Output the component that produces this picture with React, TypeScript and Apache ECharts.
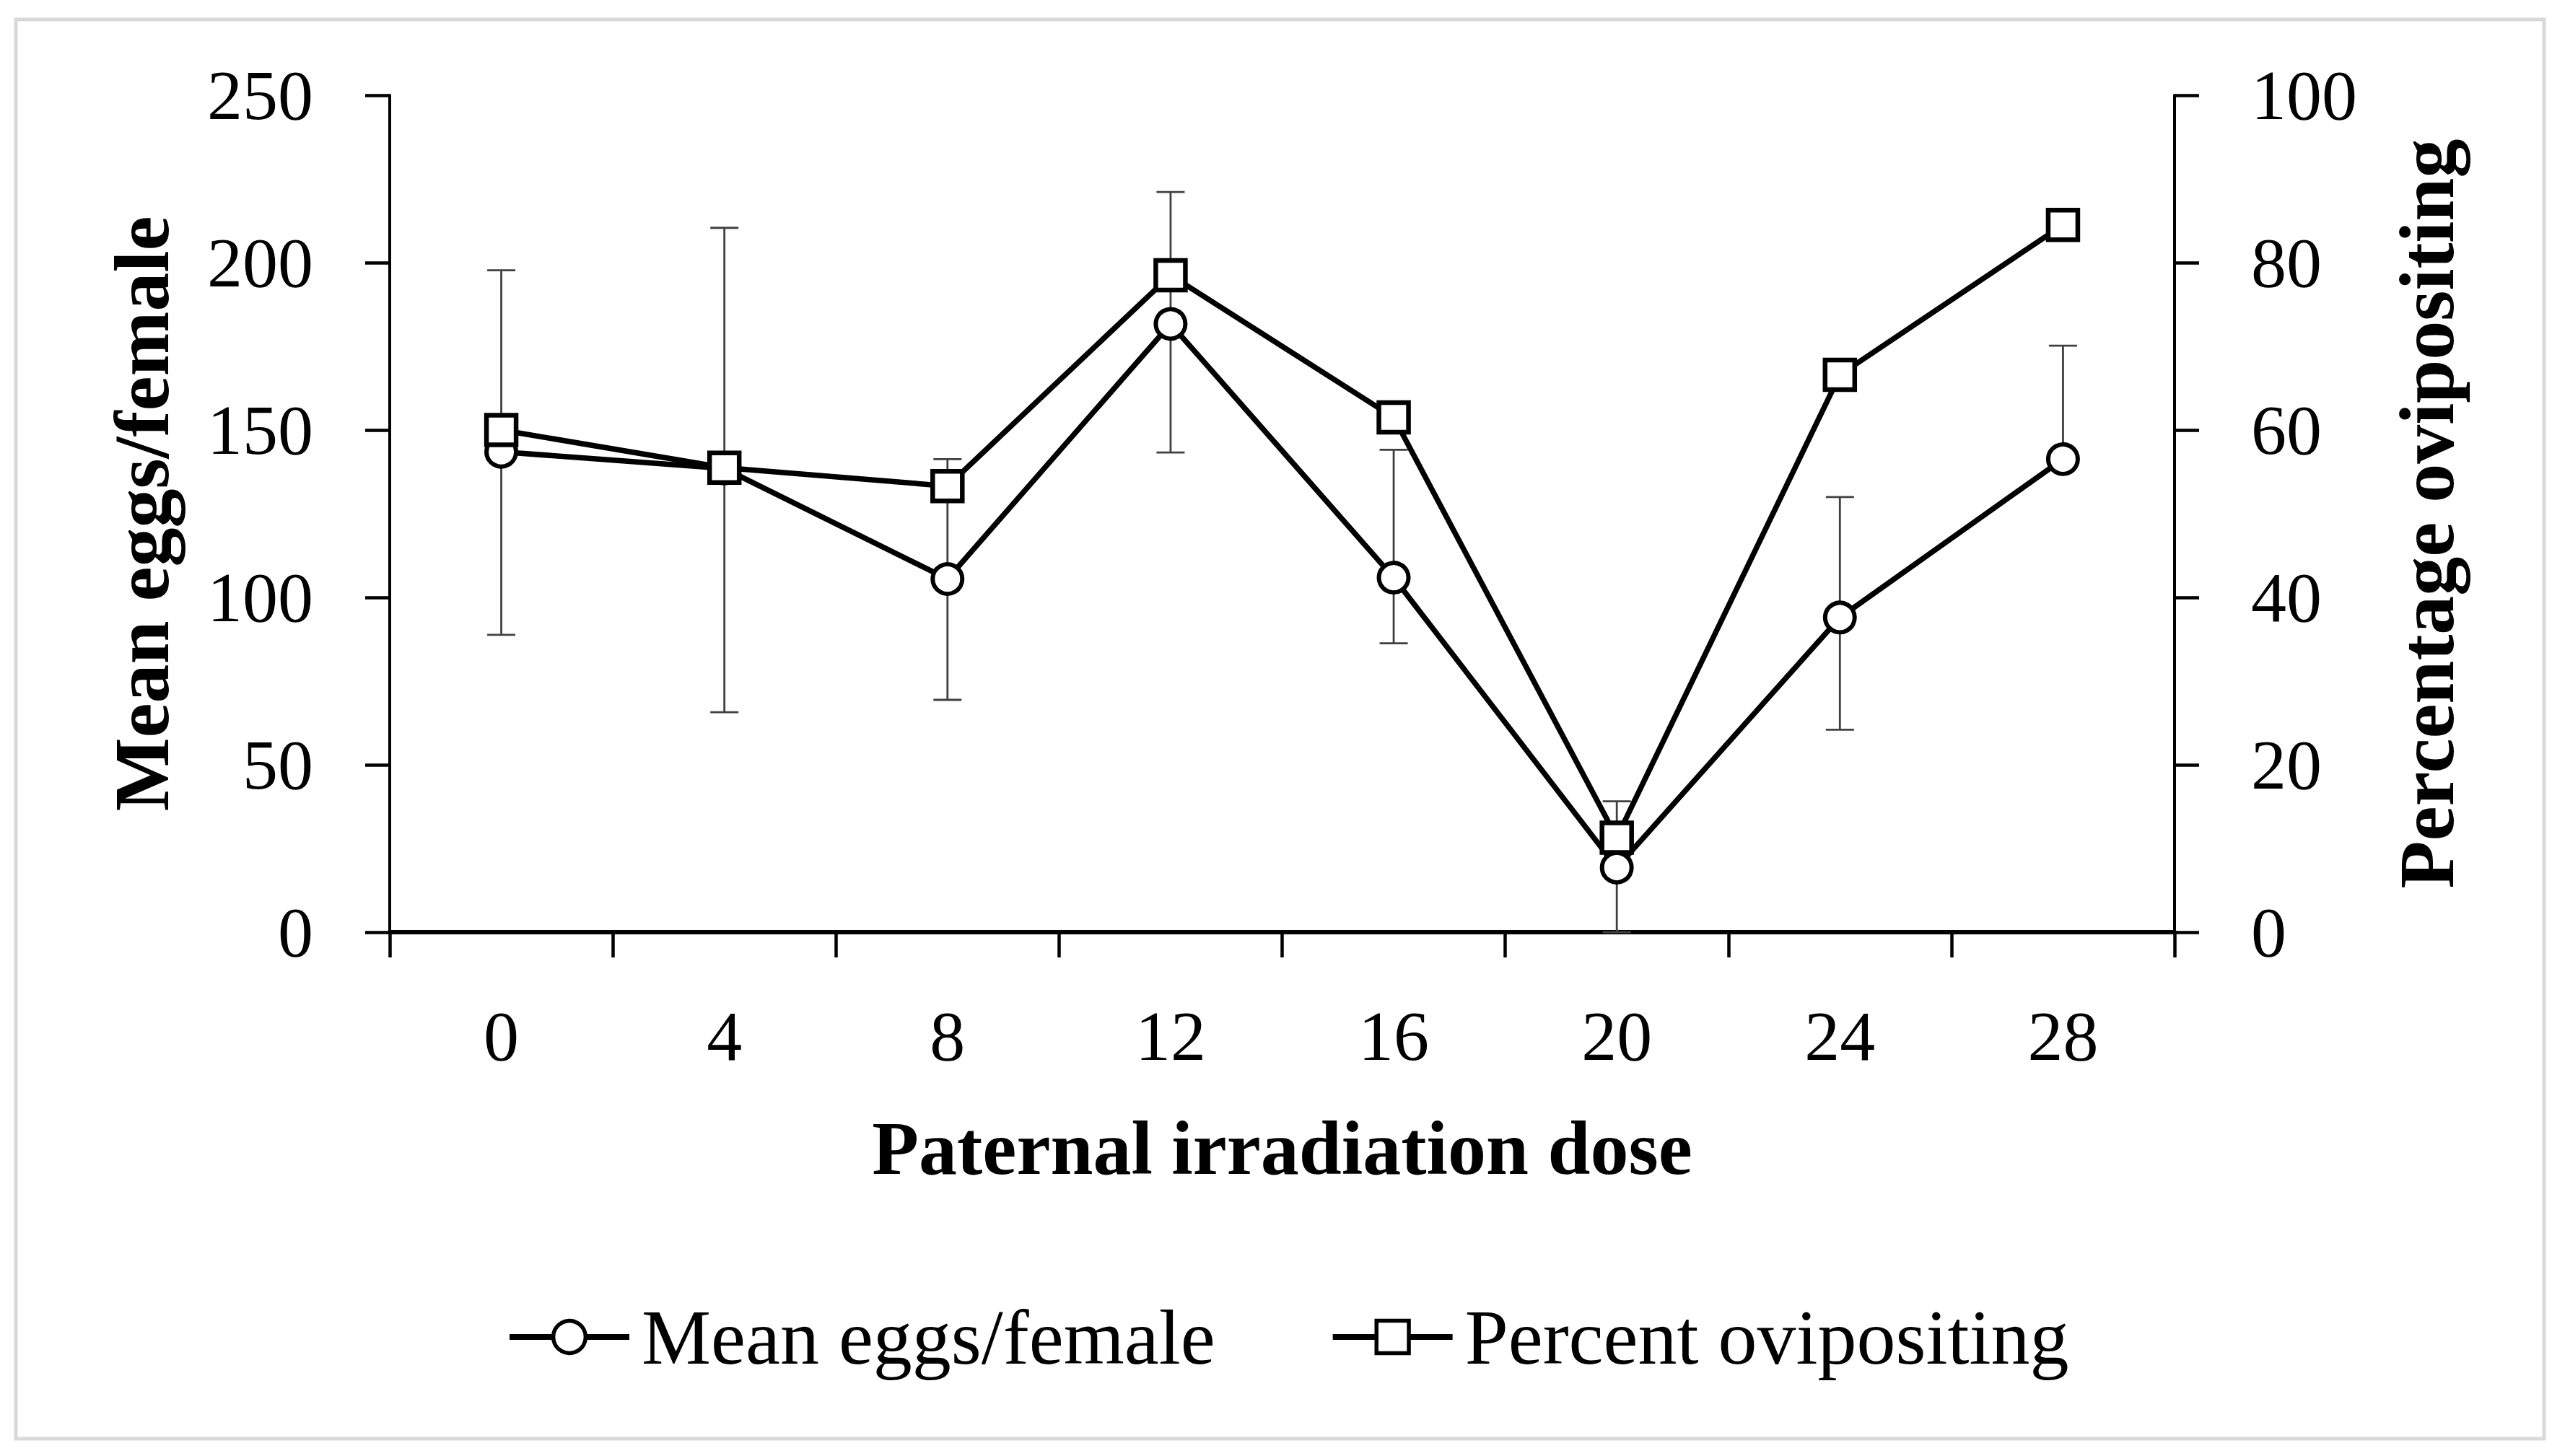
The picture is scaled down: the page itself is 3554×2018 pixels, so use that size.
import React, { useEffect, useRef } from "react";
import * as echarts from "echarts";

const doses = ["0", "4", "8", "12", "16", "20", "24", "28"];
const meanEggs = [143.5, 138.5, 105.5, 181.7, 105.9, 19.3, 94.0, 141.3];
const percentOvipositing = [60.0, 55.5, 53.3, 78.5, 61.5, 11.3, 66.6, 84.5];
const eggsErrLow = [88.8, 65.7, 69.4, 143.3, 86.3, 0, 60.5, 141.3];
const eggsErrHigh = [197.7, 210.4, 141.3, 221.1, 144.1, 39.1, 130.0, 175.2];

const leftTicks = { min: 0, max: 250, interval: 50 };
const rightTicks = { min: 0, max: 100, interval: 20 };

const FONT = "'Liberation Serif', 'Times New Roman', serif";

export default function App() {
  const ref = useRef<HTMLDivElement>(null);

  useEffect(() => {
    if (!ref.current) return;
    const chart = echarts.init(ref.current, null, { renderer: "svg" });

    const errData = eggsErrLow.map((lo, i) => [i, lo, eggsErrHigh[i]]);

    const option: any = {
      animation: false,
      backgroundColor: "#ffffff",
      textStyle: { fontFamily: FONT, color: "#000" },
      graphic: [
        {
          type: "rect",
          shape: { x: 22, y: 27, width: 3503, height: 1967 },
          style: { fill: "none", stroke: "#d9d9d9", lineWidth: 5 },
          silent: true,
        },
      ],
      grid: { left: 540, right: 541, top: 132, bottom: 726, containLabel: false },
      legend: {
        left: 697,
        top: 1794,
        itemWidth: 166,
        itemHeight: 56,
        itemGap: 159,
        data: ["Mean eggs/female", "Percent ovipositing"],
        lineStyle: { width: 8, color: "#000" },
        itemStyle: { color: "#fff", borderColor: "#000", borderWidth: 5.5 },
        textStyle: { fontFamily: FONT, fontSize: 108, color: "#000", padding: [0, 0, 0, 12] },
      },
      xAxis: {
        type: "category",
        data: doses,
        boundaryGap: true,
        name: "Paternal irradiation dose",
        nameLocation: "middle",
        nameGap: 246,
        nameTextStyle: { fontFamily: FONT, fontSize: 106, fontWeight: "bold", color: "#000" },
        axisLine: { show: true, onZero: false, lineStyle: { color: "#000", width: 6 } },
        axisTick: { show: true, inside: false, length: 35, interval: 0, lineStyle: { color: "#000", width: 4.5 } },
        axisLabel: { margin: 95, fontFamily: FONT, fontSize: 98, color: "#000", interval: 0 },
        splitLine: { show: false },
      },
      yAxis: [
        {
          type: "value",
          position: "left",
          min: leftTicks.min,
          max: leftTicks.max,
          interval: leftTicks.interval,
          name: "Mean eggs/female",
          nameLocation: "middle",
          nameRotate: 90,
          nameGap: 290,
          nameTextStyle: { fontFamily: FONT, fontSize: 108, fontWeight: "bold", color: "#000" },
          axisLine: { show: true, lineStyle: { color: "#000", width: 4 } },
          axisTick: { show: true, inside: false, length: 34, lineStyle: { color: "#000", width: 4.5 } },
          axisLabel: { margin: 106, fontFamily: FONT, fontSize: 98, color: "#000" },
          splitLine: { show: false },
        },
        {
          type: "value",
          position: "right",
          min: rightTicks.min,
          max: rightTicks.max,
          interval: rightTicks.interval,
          name: "Percentage ovipositing",
          nameLocation: "middle",
          nameRotate: 90,
          nameGap: 295,
          nameTextStyle: { fontFamily: FONT, fontSize: 108, fontWeight: "bold", color: "#000" },
          axisLine: { show: true, lineStyle: { color: "#000", width: 4 } },
          axisTick: { show: true, inside: false, length: 34, lineStyle: { color: "#000", width: 4.5 } },
          axisLabel: { margin: 106, fontFamily: FONT, fontSize: 98, color: "#000" },
          splitLine: { show: false },
        },
      ],
      series: [
        {
          name: "eggsError",
          type: "custom",
          yAxisIndex: 0,
          z: 1,
          silent: true,
          encode: { x: 0, y: [1, 2] },
          data: errData,
          renderItem: (params: any, api: any) => {
            const x = api.value(0);
            const lo = api.value(1);
            const hi = api.value(2);
            const pLo = api.coord([x, lo]);
            const pHi = api.coord([x, hi]);
            const half = 19.5;
            const style = { stroke: "#404040", lineWidth: 2.8 };
            return {
              type: "group",
              children: [
                { type: "line", shape: { x1: pLo[0], y1: pLo[1], x2: pHi[0], y2: pHi[1] }, style },
                { type: "line", shape: { x1: pHi[0] - half, y1: pHi[1], x2: pHi[0] + half, y2: pHi[1] }, style },
                { type: "line", shape: { x1: pLo[0] - half, y1: pLo[1], x2: pLo[0] + half, y2: pLo[1] }, style },
              ],
            };
          },
        },
        {
          name: "Mean eggs/female",
          type: "line",
          yAxisIndex: 0,
          z: 3,
          data: meanEggs,
          symbol: "circle",
          symbolSize: 41,
          showAllSymbol: true,
          lineStyle: { color: "#000", width: 7.5 },
          itemStyle: { color: "#fff", borderColor: "#000", borderWidth: 6 },
        },
        {
          name: "Percent ovipositing",
          type: "line",
          yAxisIndex: 1,
          z: 4,
          data: percentOvipositing,
          symbol: "rect",
          symbolSize: 41,
          showAllSymbol: true,
          lineStyle: { color: "#000", width: 7.5 },
          itemStyle: { color: "#fff", borderColor: "#000", borderWidth: 6.5 },
        },
      ],
    };

    chart.setOption(option);
    return () => chart.dispose();
  }, []);

  return (
    <div
      ref={ref}
      style={{ position: "absolute", left: 0, top: 0, width: "3554px", height: "2018px", background: "#fff" }}
    />
  );
}
